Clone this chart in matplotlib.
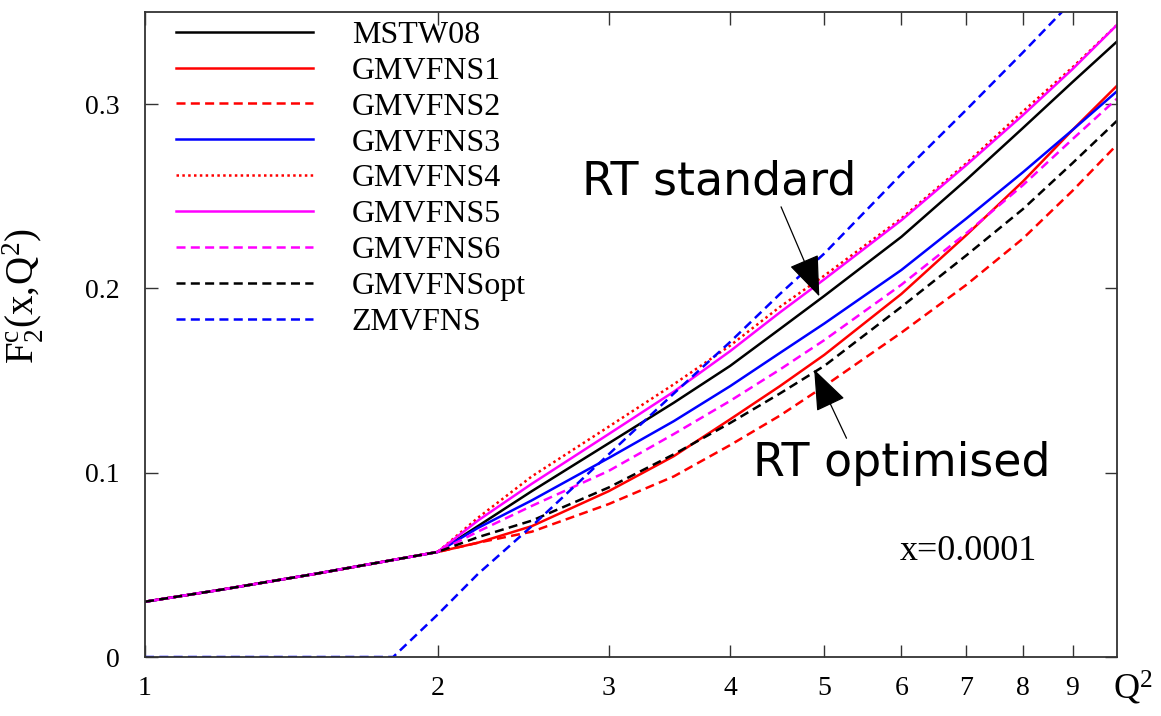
import matplotlib
matplotlib.use('Agg')
import matplotlib.pyplot as plt

plt.rcParams['font.family'] = ['Liberation Serif', 'DejaVu Serif']
plt.rcParams['mathtext.fontset'] = 'custom'
plt.rcParams['mathtext.rm'] = 'Liberation Serif'
plt.rcParams['mathtext.it'] = 'Liberation Serif'
plt.rcParams['lines.scale_dashes'] = False

# Q^2 grid shared by the GMVFNS / MSTW08 curves
q2 = [1, 1.2, 1.5, 2, 2.2, 2.5, 3, 3.5, 4, 4.5, 5, 6, 7, 8, 9, 10]
low = [0.030, 0.0366, 0.0452, 0.057]

mstw08 = low + [0.071, 0.090, 0.116, 0.138, 0.158, 0.178, 0.196, 0.228, 0.259, 0.287, 0.312, 0.334]
gm1 = low + [0.062, 0.071, 0.090, 0.109, 0.129, 0.147, 0.164, 0.197, 0.229, 0.258, 0.286, 0.310]
gm2 = low + [0.062, 0.068, 0.083, 0.098, 0.115, 0.131, 0.147, 0.176, 0.202, 0.227, 0.253, 0.278]
gm3 = low + [0.070, 0.085, 0.108, 0.128, 0.147, 0.165, 0.181, 0.210, 0.238, 0.263, 0.286, 0.307]
gm4 = low + [0.0755, 0.098, 0.125, 0.148, 0.169, 0.190, 0.207, 0.238, 0.268, 0.296, 0.320, 0.343]
gm5 = low + [0.074, 0.094, 0.121, 0.144, 0.166, 0.187, 0.205, 0.237, 0.267, 0.294, 0.319, 0.343]
gm6 = low + [0.068, 0.082, 0.101, 0.121, 0.139, 0.156, 0.172, 0.202, 0.230, 0.256, 0.281, 0.303]
gmopt = low + [0.065, 0.074, 0.092, 0.110, 0.127, 0.143, 0.158, 0.190, 0.218, 0.243, 0.268, 0.291]

# zero-mass scheme has its own grid
q2_zm = [1, 1.8, 2, 2.2, 2.5, 3, 3.5, 4, 4.5, 5, 6, 7, 8, 9]
zmvfns = [0, 0, 0.023, 0.045, 0.071, 0.110, 0.143, 0.171, 0.197, 0.219, 0.262, 0.297, 0.328, 0.356]

xticks = [1, 2, 3, 4, 5, 6, 7, 8, 9]
yticks = [0, 0.1, 0.2, 0.3]

fig = plt.figure(figsize=(11.61, 7.16), dpi=100)
ax = fig.add_axes([0.1249, 0.0824, 0.8372, 0.9008])

lw = 1.8
dash = (6.5, 3.8)
ax.plot(q2, mstw08, color='black', lw=lw, label='MSTW08')
ax.plot(q2, gm1, color='#ff0000', lw=lw, label='GMVFNS1')
ax.plot(q2, gm2, color='#ff0000', lw=lw, dashes=dash, label='GMVFNS2')
ax.plot(q2, gm3, color='#0000ff', lw=lw, label='GMVFNS3')
ax.plot(q2, gm4, color='#ff0000', lw=lw, dashes=(1.8, 2.4), label='GMVFNS4')
ax.plot(q2, gm5, color='#ff00ff', lw=lw, label='GMVFNS5')
ax.plot(q2, gm6, color='#ff00ff', lw=lw, dashes=dash, label='GMVFNS6')
ax.plot(q2, gmopt, color='black', lw=lw, dashes=dash, label='GMVFNSopt')
ax.plot(q2_zm, zmvfns, color='#0000ff', lw=lw, dashes=dash, label='ZMVFNS')

ax.set_xscale('log')
ax.set_xlim(1, 10)
ax.set_ylim(0, 0.35)
ax.set_xticks(xticks)
ax.set_xticklabels([str(t) for t in xticks])
ax.xaxis.set_minor_locator(matplotlib.ticker.NullLocator())
ax.set_yticks(yticks)
ax.set_yticklabels(['0', '0.1', '0.2', '0.3'])
ax.tick_params(axis='both', direction='in', top=True, right=True, length=9,
               width=1.0, labelsize=20, color='#333333')
ax.tick_params(axis='x', pad=14)
ax.tick_params(axis='y', pad=18)
for s in ax.spines.values():
    s.set_linewidth(1.3)
    s.set_color('#333333')

ax.set_ylabel(r'$\mathregular{F_2^c(x,\!Q^2)}$', fontsize=28)
ax.yaxis.set_label_coords(-0.103, 0.56)
ax.text(1.016, -0.048, r'$\mathregular{Q^2}$', transform=ax.transAxes,
        fontsize=26, ha='center', va='center')
ax.text(0.847, 0.163, 'x=0.0001', transform=ax.transAxes, fontsize=26,
        ha='center', va='center')

ax.legend(loc='upper left', bbox_to_anchor=(0.032, 0.987), frameon=False,
          fontsize=23, handlelength=4.3, handletextpad=1.2, labelspacing=0.205,
          borderaxespad=0, borderpad=0)

arrow = dict(arrowstyle='-|>,head_length=1.3,head_width=0.5', color='black',
             lw=0.9, mutation_scale=20, shrinkA=0, shrinkB=0)
ax.annotate('RT standard', xy=(4.94, 0.1957), xytext=(3.90, 0.258),
            fontsize=33, family='DejaVu Sans', ha='center', va='center',
            arrowprops=dict(arrow, relpos=(0.72, 0.0)))
ax.annotate('RT optimised', xy=(4.88, 0.156), xytext=(6.0, 0.105),
            fontsize=33, family='DejaVu Sans', ha='center', va='center',
            arrowprops=dict(arrow, relpos=(0.32, 1.0)))

fig.savefig('out.png', dpi=100)
